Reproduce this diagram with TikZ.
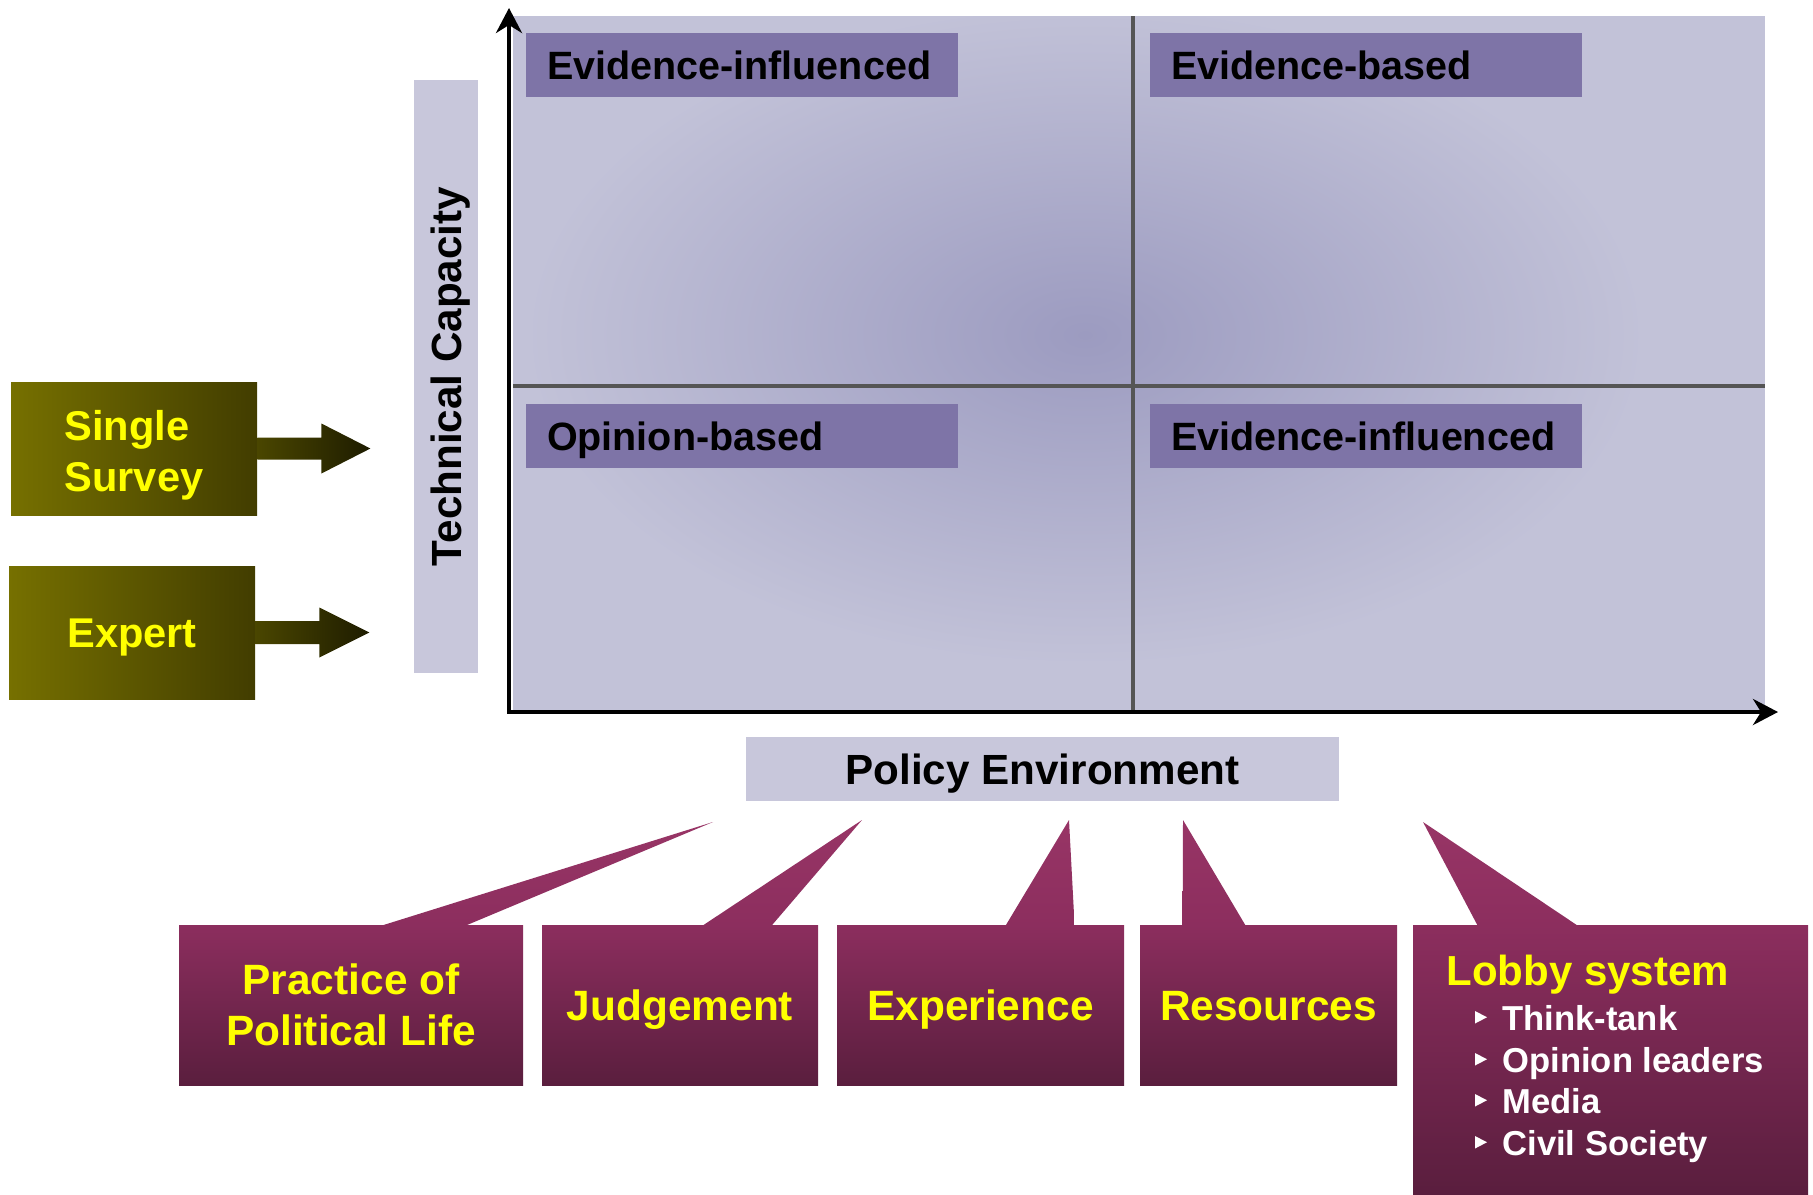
\documentclass[tikz,border=0pt]{standalone}
\usepackage{fontspec}
\setmainfont{Liberation Sans}
\usetikzlibrary{arrows.meta,calc}

\definecolor{bgq}{HTML}{C2C2D8}
\definecolor{bgdark}{HTML}{9C9BC0}
\definecolor{labfill}{HTML}{7E74A7}
\definecolor{axbox}{HTML}{C8C7DB}
\definecolor{divc}{HTML}{555555}
\definecolor{olL}{RGB}{118,112,0}
\definecolor{olR}{RGB}{66,61,0}
\definecolor{arL}{RGB}{74,70,0}
\definecolor{arR}{RGB}{30,28,0}
\definecolor{plTop}{HTML}{8C2E5E}
\definecolor{plBot}{HTML}{5A1E3E}
\definecolor{plTip}{HTML}{983566}
\definecolor{yel}{HTML}{FFFF00}

\begin{document}
\begin{tikzpicture}[x=0.5pt,y=-0.5pt,
  quadlab/.style={fill=labfill, minimum width=216pt, minimum height=32pt,
    inner xsep=10.5pt, inner ysep=0pt, text width=195pt, align=left,
    text height=14.1pt, text depth=0pt,
    font=\fontsize{19.75}{24}\selectfont\bfseries},
  axlabel/.style={fill=axbox, inner sep=0pt, text height=15.1pt, text depth=0pt,
    font=\fontsize{21.1}{25}\selectfont\bfseries},
  olivebox/.style={left color=olL, right color=olR, minimum width=123pt,
    minimum height=66.5pt, inner sep=0pt, text=yel,
    font=\fontsize{20.8}{25.5}\selectfont\bfseries},
  olivearrow/.style={left color=arL, right color=arR},
  plumbox/.style={top color=plTop, bottom color=plBot, minimum height=80pt,
    inner sep=0pt, text=yel, align=center,
    font=\fontsize{21.2}{25.5}\selectfont\bfseries},
  plumtip/.style={top color=plTip, bottom color=plTop},
  axisline/.style={line width=2pt, -{Stealth[length=12.5pt,width=13pt,inset=4pt]}},
  divider/.style={line width=2pt, divc},
  bulletitem/.style={anchor=base west, inner sep=0pt, text=white,
    font=\fontsize{17.3}{20}\selectfont\bfseries}
]
\useasboundingbox (0,0) rectangle (1813,1194);

% quadrant background
\fill[bgq] (513,16) rectangle (1765,710);
\begin{scope}
  \clip (513,16) rectangle (1765,710);
  \shade[inner color=bgdark, outer color=bgq] (1085,335) ellipse [x radius=560, y radius=330];
\end{scope}

% dividers
\coordinate (vtop) at (1133,16);
\coordinate (vbot) at (1133,710);
\coordinate (hleft) at (513,386);
\coordinate (hright) at (1765,386);
\draw[divider] (vtop) -- (vbot);
\draw[divider] (hleft) -- (hright);

% axes
\coordinate (origin) at (509,712);
\coordinate (ytip) at (509,8);
\coordinate (xtip) at (1778,712);
\draw[axisline] (origin) -- (ytip);
\draw[axisline] ($(origin)+(-2,0)$) -- (xtip);

% quadrant labels
\node[quadlab] (q1) at (742,65) {Evidence-influenced};
\node[quadlab] (q2) at (1366,65) {Evidence-based};
\node[quadlab] (q3) at (742,436) {Opinion-based};
\node[quadlab] (q4) at (1366,436) {Evidence-influenced};

% axis labels
\node[axlabel, rotate=90, minimum width=296.5pt, minimum height=32pt] (tc) at (446,376.5) {Technical Capacity};
\node[axlabel, minimum width=296.5pt, minimum height=32pt, text height=15pt] (pe) at (1042.5,769) {Policy Environment};

% olive boxes
\node[olivebox] (ss) at (134,448.5) {};
\node[inner sep=0pt, text=yel, align=left, font=\fontsize{20.8}{25.5}\selectfont\bfseries] (sst) at (134,455) {Single\\Survey};
\node[olivebox, text height=14.9pt, text depth=0pt] (ex) at (132,632.5) {Expert};

\coordinate (sstip) at ($(ss.east)+(113,0)$);
\coordinate (extip) at ($(ex.east)+(114,0)$);
\shade[olivearrow] ($(ss.east)+(0,-11)$) -- ($(ss.east)+(64,-11)$) -- ($(ss.east)+(64,-25)$)
  -- (sstip) -- ($(ss.east)+(64,25)$) -- ($(ss.east)+(64,11)$) -- ($(ss.east)+(0,11)$) -- cycle;
\shade[olivearrow] ($(ex.east)+(0,-11.5)$) -- ($(ex.east)+(64,-11.5)$) -- ($(ex.east)+(64,-25)$)
  -- (extip) -- ($(ex.east)+(64,25)$) -- ($(ex.east)+(64,11.5)$) -- ($(ex.east)+(0,11.5)$) -- cycle;

% bottom boxes
\node[plumbox, minimum width=172pt] (pr) at (351,1005) {Practice of\\Political Life};
\node[plumbox, minimum width=138pt, text height=15.2pt, text depth=0pt] (ju) at (680,1005) {Judgement};
\node[plumbox, minimum width=143.5pt, text height=15.2pt, text depth=0pt] (xp) at (980.5,1005) {Experience};
\node[plumbox, minimum width=128.5pt, text height=15.2pt, text depth=0pt] (rs) at (1268.5,1005) {Resources};
\node[plumbox, minimum width=197.5pt, minimum height=134.5pt] (lb) at (1610.5,1059.5) {};

% callout tips
\coordinate (tpr) at (713,822);
\coordinate (tju) at (862,820);
\coordinate (txp) at (1069,820);
\coordinate (trs) at (1183,820);
\coordinate (tlb) at (1423,822);

\shade[plumtip] (tpr) -- ($(pr.north west)+(203,1)$) -- ($(pr.north west)+(287,1)$) -- cycle;
\shade[plumtip] (tju) -- ($(ju.north west)+(161,1)$) -- ($(ju.north west)+(230,1)$) -- cycle;
\shade[plumtip] (txp) -- ($(xp.north west)+(169,1)$) -- ($(xp.north west)+(238,1)$) -- cycle;
\shade[plumtip] (trs) -- ($(rs.north west)+(43,1)$) -- ($(rs.north west)+(106,1)$) -- cycle;
\shade[plumtip] (tlb) -- ($(lb.north west)+(65,1)$) -- ($(lb.north west)+(165,1)$) -- cycle;

% lobby text
\node[anchor=base west, inner sep=0pt, text=yel, font=\fontsize{21}{25}\selectfont\bfseries] (lbt) at (1446,985) {Lobby system};
\node[bulletitem] (b1) at (1502,1030) {Think-tank};
\node[bulletitem] (b2) at (1502,1072) {Opinion leaders};
\node[bulletitem] (b3) at (1502,1113) {Media};
\node[bulletitem] (b4) at (1502,1155) {Civil Society};
\foreach \b in {b1,b2,b3,b4}{
  \fill[white] ($(\b.base west)+(-27,-19)$) -- ($(\b.base west)+(-27,-6.5)$) -- ($(\b.base west)+(-15,-12.75)$) -- cycle;
}
\end{tikzpicture}
\end{document}
